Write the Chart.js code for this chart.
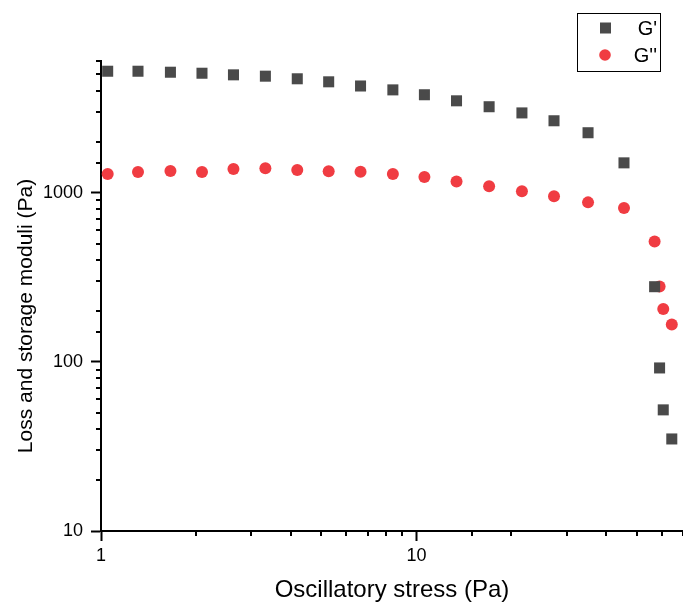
<!DOCTYPE html>
<html>
<head>
<meta charset="utf-8">
<script src="https://cdn.jsdelivr.net/npm/chart.js@4"></script>
<style>
  html, body { margin: 0; padding: 0; background: #fff; }
  #wrap { width: 683px; height: 605px; position: relative; }
</style>
</head>
<body>
<div id="wrap"><canvas id="chart"></canvas></div>
<script>
// oscillatory stress sweep (Pa)
const stress = [1.05, 1.31, 1.66, 2.09, 2.63, 3.32, 4.19, 5.27, 6.65, 8.42, 10.6,
    13.4, 17.0, 21.6, 27.3, 35.0, 45.5, 56.9, 59.0, 60.6, 64.5];
// storage modulus G' (Pa)
const storageG = [5220, 5220, 5150, 5080, 4970, 4880, 4710, 4520, 4270, 4050, 3790,
    3490, 3220, 2960, 2660, 2260, 1500, 278, 92, 52, 35];
// loss modulus G'' (Pa)
const lossG = [1290, 1326, 1344, 1326, 1381, 1393, 1363, 1340, 1331, 1290, 1239,
    1162, 1090, 1018, 951, 876, 812, 515, 279, 205, 166];

const xLabels = [1, 10];
const yLabels = [10, 100, 1000];

const isMajor = (v) => Math.abs(Math.log10(v) - Math.round(Math.log10(v))) < 1e-9;

const minorTicks = {
    id: 'minorTicks',
    afterDraw(chart) {
        const ctx = chart.ctx;
        const x = chart.scales.x, y = chart.scales.y;
        ctx.save();
        ctx.strokeStyle = '#000';
        ctx.lineWidth = 2;
        x.ticks.forEach(t => {
            if (isMajor(t.value)) return;
            const px = Math.round(x.getPixelForValue(t.value));
            ctx.beginPath();
            ctx.moveTo(px, y.bottom);
            ctx.lineTo(px, y.bottom + 5);
            ctx.stroke();
        });
        y.ticks.forEach(t => {
            if (isMajor(t.value)) return;
            const py = Math.round(y.getPixelForValue(t.value));
            ctx.beginPath();
            ctx.moveTo(x.left, py);
            ctx.lineTo(x.left - 5, py);
            ctx.stroke();
        });
        ctx.restore();
    }
};

// y title and the boxed legend
const extras = {
    id: 'extras',
    afterDraw(chart) {
        const ctx = chart.ctx;
        ctx.save();
        ctx.fillStyle = '#000';
        ctx.font = '21px "Liberation Sans", Arial, sans-serif';
        ctx.textAlign = 'center';
        ctx.textBaseline = 'middle';
        ctx.translate(26, 316);
        ctx.rotate(-Math.PI / 2);
        ctx.fillText('Loss and storage moduli (Pa)', 0, 0);
        ctx.restore();

        ctx.save();
        ctx.strokeStyle = '#000';
        ctx.lineWidth = 1;
        ctx.strokeRect(577.5, 13.5, 83, 58);
        const ds = chart.data.datasets;
        ctx.font = '20px "Liberation Sans", Arial, sans-serif';
        ctx.textAlign = 'right';
        ctx.textBaseline = 'middle';
        ds.forEach((d, i) => {
            const cy = 28 + i * 27;
            ctx.fillStyle = d.backgroundColor;
            if (d.pointStyle === 'rect') {
                ctx.fillRect(600, cy - 5.5, 11, 11);
            } else {
                ctx.beginPath();
                ctx.arc(605, cy, 5.8, 0, Math.PI * 2);
                ctx.fill();
            }
            ctx.fillStyle = '#000';
            ctx.fillText(d.label, 657, cy + 1);
        });
        ctx.restore();
    }
};

const ctx = document.getElementById('chart').getContext('2d');

new Chart(ctx, {
    type: 'scatter',
    data: {
        datasets: [
            {
                label: "G'",
                data: stress.map((s, i) => ({ x: s, y: storageG[i] })),
                pointStyle: 'rect',
                pointRadius: 7.8,
                backgroundColor: '#4a4a4a',
                borderColor: '#4a4a4a',
                borderWidth: 0,
            },
            {
                label: "G''",
                data: stress.map((s, i) => ({ x: s, y: lossG[i] })),
                pointStyle: 'circle',
                pointRadius: 6,
                backgroundColor: '#f03c42',
                borderColor: '#f03c42',
                borderWidth: 0,
            },
        ],
    },
    options: {
        responsive: true,
        maintainAspectRatio: false,
        animation: false,
        clip: false,
        layout: { autoPadding: false, padding: { top: 61, right: 0, left: 0, bottom: 0 } },
        plugins: {
            legend: { display: false },
            tooltip: { enabled: false },
        },
        scales: {
            x: {
                type: 'logarithmic',
                min: 1,
                max: 70,
                afterFit: (s) => { s.height = 74; s.paddingRight = 0; },
                border: { display: true, color: '#000', width: 2 },
                grid: {
                    drawOnChartArea: false,
                    tickLength: 10,
                    tickWidth: 2,
                    tickColor: (c) => (c.tick && isMajor(c.tick.value)) ? '#000' : 'rgba(0,0,0,0)',
                },
                ticks: {
                    autoSkip: false,
                    maxRotation: 0,
                    padding: 4,
                    color: '#000',
                    font: { family: '"Liberation Sans", Arial, sans-serif', size: 18 },
                    callback: (v) => xLabels.includes(v) ? String(v) : '',
                },
                title: {
                    display: true,
                    text: 'Oscillatory stress (Pa)',
                    color: '#000',
                    font: { family: '"Liberation Sans", Arial, sans-serif', size: 24 },
                    padding: { top: 0, bottom: 0 },
                },
            },
            y: {
                type: 'logarithmic',
                min: 10,
                max: 6000,
                afterFit: (s) => { s.width = 101; },
                border: { display: true, color: '#000', width: 2 },
                grid: {
                    drawOnChartArea: false,
                    tickLength: 10,
                    tickWidth: 2,
                    tickColor: (c) => (c.tick && isMajor(c.tick.value)) ? '#000' : 'rgba(0,0,0,0)',
                },
                ticks: {
                    autoSkip: false,
                    padding: 8,
                    color: '#000',
                    font: { family: '"Liberation Sans", Arial, sans-serif', size: 18 },
                    callback: (v) => yLabels.includes(v) ? String(v) : '',
                },
            },
        },
    },
    plugins: [minorTicks, extras],
});
</script>
</body>
</html>
